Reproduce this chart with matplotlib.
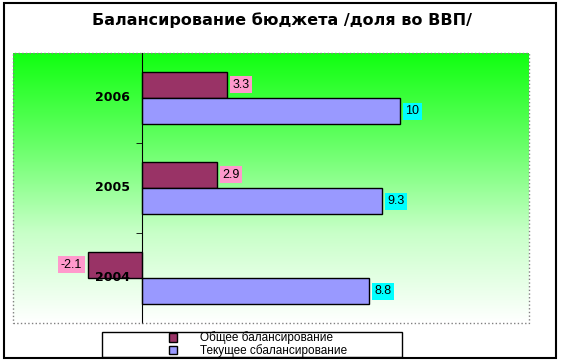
import matplotlib.pyplot as plt
import numpy as np
from matplotlib.patches import Rectangle
from matplotlib.colors import LinearSegmentedColormap

years = ['2004', '2005', '2006']
obshee = [-2.1, 2.9, 3.3]
tekushee = [8.8, 9.3, 10]
series_names = ['Общее балансирование', 'Текущее сбалансирование']

plt.rcParams['font.family'] = ['Liberation Sans', 'DejaVu Sans']

fig = plt.figure(figsize=(5.63, 3.60), dpi=100)
ax = fig.add_axes([0.0231, 0.1028, 0.9165, 0.75])

# зелёный градиент фона
grad = LinearSegmentedColormap.from_list('g', ['#ffffff', '#c8ffc8', '#66ff66', '#11ff11'])
ax.imshow(np.linspace(0, 1, 256).reshape(-1, 1), cmap=grad, aspect='auto',
          extent=(0, 1, 0, 1), transform=ax.transAxes, origin='lower', zorder=0)

y = np.arange(len(years))
h = 0.29
b1 = ax.barh(y + h / 2, obshee, height=h, color='#993366', edgecolor='black', lw=1,
             label=series_names[0], zorder=2)
b2 = ax.barh(y - h / 2, tekushee, height=h, color='#9999ff', edgecolor='black', lw=1,
             label=series_names[1], zorder=2)

for bars, vals, fc in [(b1, obshee, '#ff99cc'), (b2, tekushee, '#00ffff')]:
    for bar, v in zip(bars, vals):
        yc = bar.get_y() + bar.get_height() / 2
        ax.annotate(str(v), (v, yc), xytext=(4 if v >= 0 else -4, 0),
                    textcoords='offset points', va='center',
                    ha='left' if v >= 0 else 'right', fontsize=9,
                    bbox=dict(boxstyle='square,pad=0.2', fc=fc, ec='none'), zorder=3)

# подписи годов у оси
for yi, yr in zip(y, years):
    ax.annotate(yr, (0, yi), xytext=(-9, 0), textcoords='offset points',
                ha='right', va='center', fontsize=9, fontweight='bold',
                family=['DejaVu Sans'], zorder=3)

ax.set_xlim(-5, 15)
ax.set_ylim(-0.5, 2.5)
ax.set_xticks([])
ax.set_yticks([])
ax.set_yticks([0.5, 1.5], minor=True)
ax.tick_params(axis='y', which='minor', length=4, direction='out', color='black')

for s in ['top', 'right', 'bottom']:
    ax.spines[s].set_visible(False)
ax.spines['left'].set_position(('data', 0))
ax.spines['left'].set_color('black')
ax.spines['left'].set_zorder(4)
ax.add_patch(Rectangle((0, 0), 1, 1, transform=ax.transAxes, fill=False,
                       ec='#808080', ls=':', lw=1, zorder=5, clip_on=False))

fig.suptitle('Балансирование бюджета /доля во ВВП/', x=0.5, y=0.965,
             fontsize=11.5, fontweight='heavy', family=['DejaVu Sans'])

# легенда: рамка отдельно, пункты по центру
fig.add_artist(Rectangle((102 / 563, 3 / 360), 300 / 563, 25 / 360, transform=fig.transFigure,
                         fc='white', ec='black', lw=1, zorder=6))
leg = fig.legend(handles=[b1, b2], loc='center', bbox_to_anchor=(258 / 563, 15.5 / 360),
                 ncol=1, fontsize=8.5, frameon=False, handlelength=0.7, handleheight=0.7,
                 handletextpad=2.0, borderpad=0, labelspacing=0.0, borderaxespad=0)
leg.set_zorder(7)

# рамка всей диаграммы
fig.add_artist(Rectangle((4 / 563, 2 / 360), 552 / 563, 355 / 360, transform=fig.transFigure,
                         fill=False, ec='black', lw=1.5, zorder=21))

fig.savefig('out.png', dpi=100)
